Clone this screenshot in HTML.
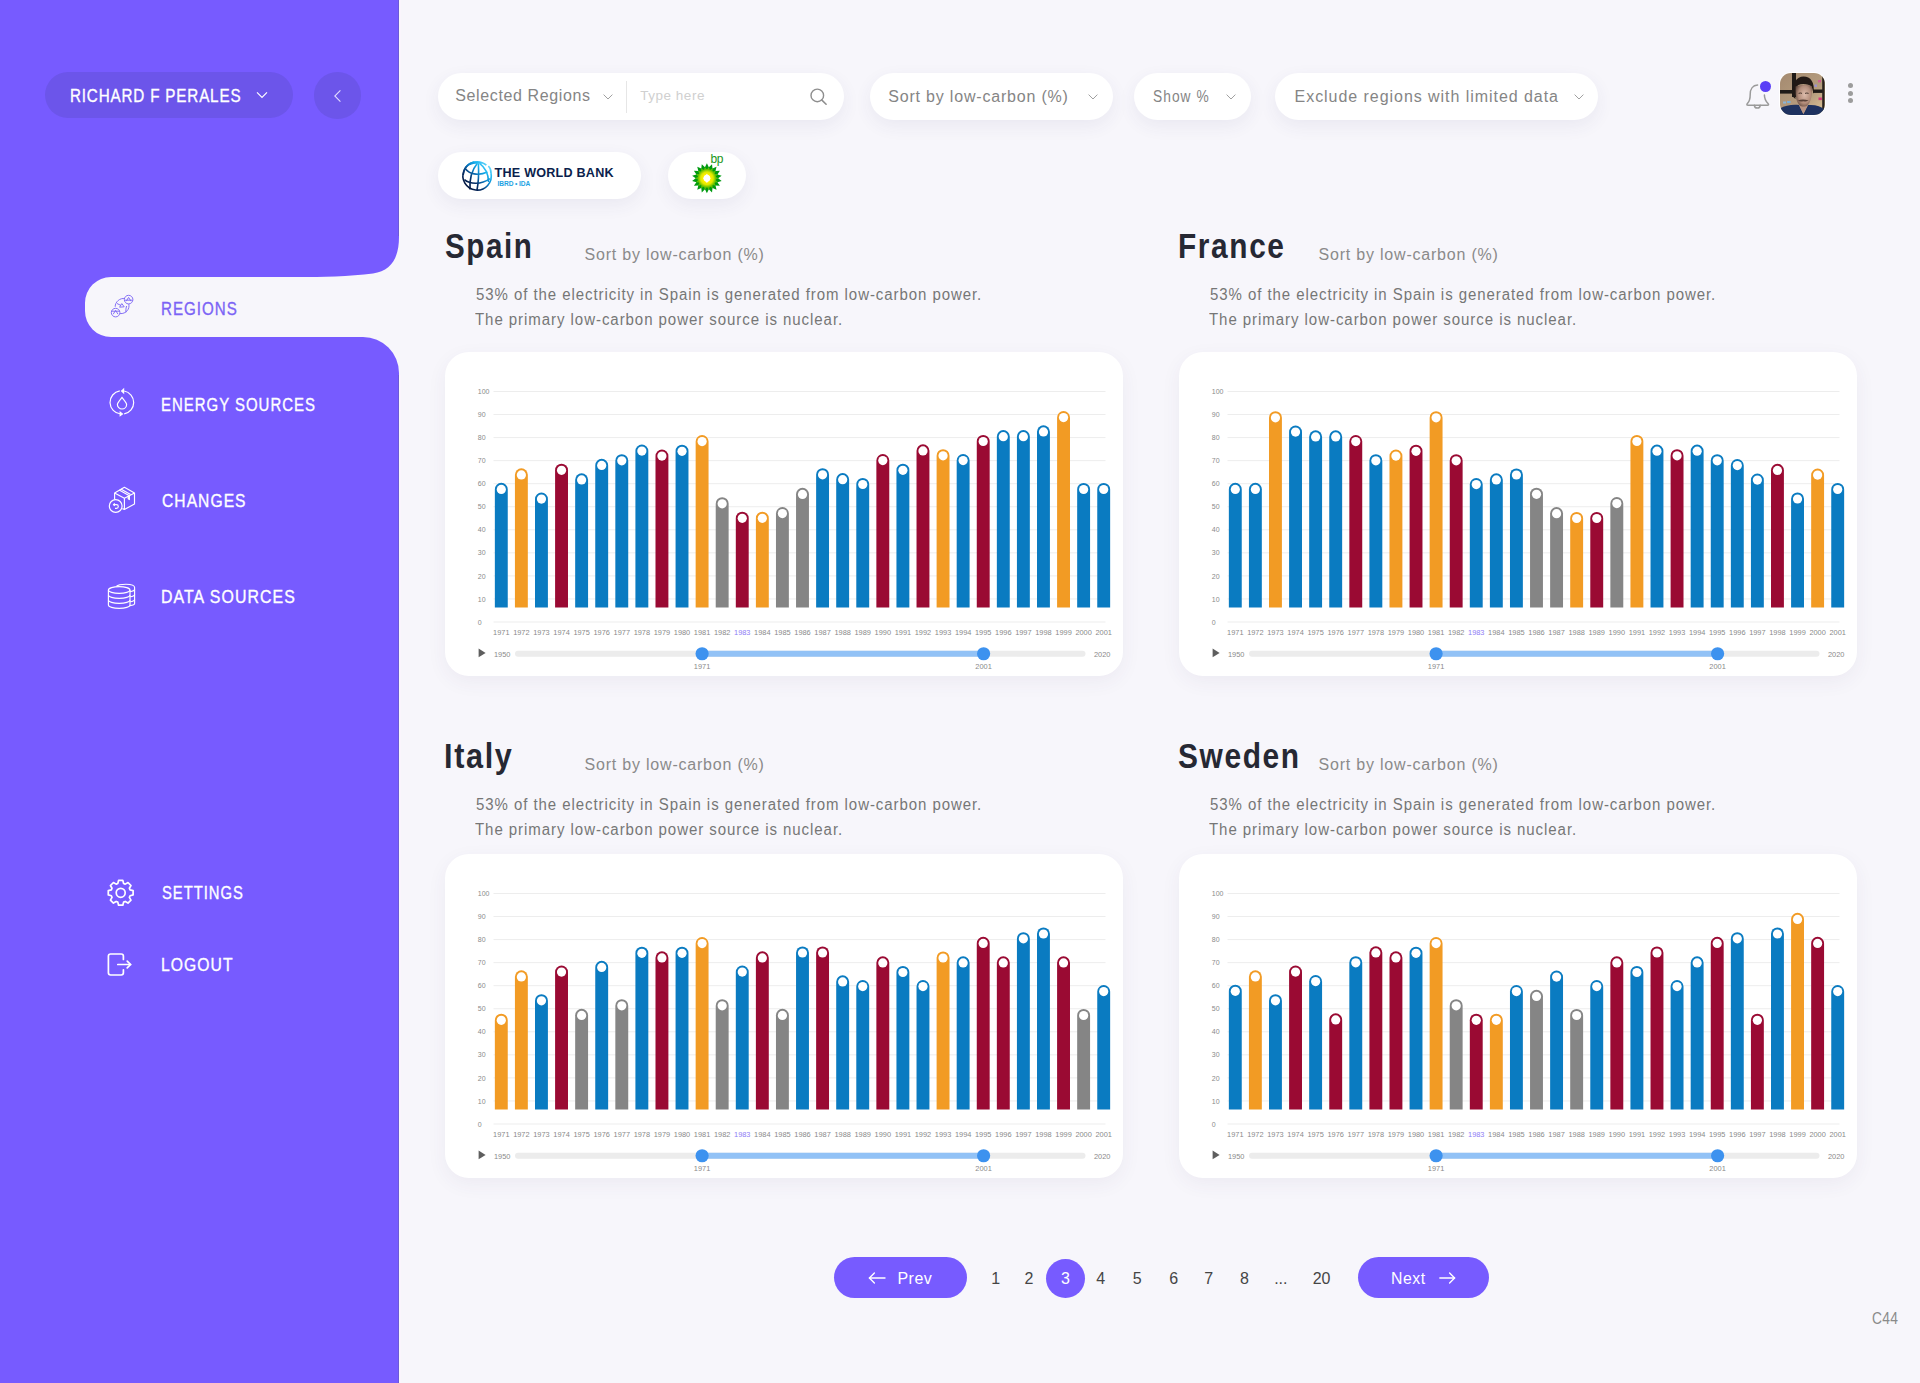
<!DOCTYPE html>
<html><head><meta charset="utf-8">
<style>
*{margin:0;padding:0;box-sizing:border-box}
html,body{width:1920px;height:1383px;overflow:hidden;background:#f7f6fb;font-family:"Liberation Sans",sans-serif}
.a{position:absolute;line-height:1;white-space:nowrap}
.stk{-webkit-text-stroke:0.35px currentColor}
.pill{position:absolute;background:#fff;border-radius:24px;box-shadow:0 6px 18px rgba(60,50,110,0.07)}
.card{position:absolute;width:678px;height:324px;background:#fff;border-radius:24px;box-shadow:0 6px 20px rgba(60,50,110,0.06)}
.cs{position:absolute;left:0;top:0}
.yl{font-size:7px;fill:#8a8a8a}
.xl{font-size:7.4px;fill:#8a8a8a;text-anchor:middle}
.sl{font-size:7.4px;fill:#8a8a8a}
.pg{color:#333;font-size:16px}
</style></head><body>

<svg class="a" style="left:0;top:0" width="400" height="1383" viewBox="0 0 400 1383">
<path d="M0,0 H399 V237 C399,258 391,271 373,273.5 C350,276.5 320,277 300,277 H111 A26,26 0 0 0 85,303 V311 A26,26 0 0 0 111,337 H363 A36,36 0 0 1 399,373 V1383 H0 Z" fill="#775bff"/>
<rect x="398" y="0" width="1" height="236" fill="#6c5ad8"/><rect x="398" y="375" width="1" height="1008" fill="#6c5ad8"/>
</svg>
<div class="a" style="left:399px;top:0;width:1.5px;height:236px;background:#faf5fc"></div><div class="a" style="left:399px;top:375px;width:1.5px;height:1008px;background:#faf5fc"></div>
<div class="a" style="left:45px;top:72px;width:248px;height:46px;border-radius:23px;background:#6c55ea"></div>
<svg class="a" style="left:255px;top:89px" width="14" height="12"><path d="M2,3.4 L7,8.4 L12,3.4" fill="none" stroke="#fff" stroke-width="1.15"/></svg>
<div class="a" style="left:314px;top:72px;width:46.5px;height:46.5px;border-radius:50%;background:#6c55ea"></div>
<svg class="a" style="left:330px;top:88px" width="14" height="16"><path d="M10.4,2.4 L4.8,8 L10.4,13.6" fill="none" stroke="#e2dcff" stroke-width="1.1"/></svg>
<div class="pill" style="left:437.5px;top:73px;width:406.5px;height:47px"></div>
<div class="a" style="left:626.2px;top:80.6px;width:1px;height:32.7px;background:#e6e6e6"></div>
<svg class="a" style="left:806px;top:85px" width="24" height="24"><circle cx="11.3" cy="10.4" r="6.3" fill="none" stroke="#8e8e8e" stroke-width="1.4"/><path d="M15.9,15.1 L20.1,19.2" stroke="#8e8e8e" stroke-width="1.6" stroke-linecap="round"/></svg>
<div class="pill" style="left:869.5px;top:73px;width:243px;height:47px"></div>
<div class="pill" style="left:1134px;top:73px;width:117px;height:47px"></div>
<div class="pill" style="left:1275px;top:73px;width:323px;height:47px"></div>
<svg class="a" style="left:602.4px;top:92px" width="12" height="10"><path d="M1.6,2.6 L6,7 L10.4,2.6" fill="none" stroke="#a0a0a0" stroke-width="1.0"/></svg>
<svg class="a" style="left:1087.2px;top:92px" width="12" height="10"><path d="M1.6,2.6 L6,7 L10.4,2.6" fill="none" stroke="#a0a0a0" stroke-width="1.0"/></svg>
<svg class="a" style="left:1225.0px;top:92px" width="12" height="10"><path d="M1.6,2.6 L6,7 L10.4,2.6" fill="none" stroke="#a0a0a0" stroke-width="1.0"/></svg>
<svg class="a" style="left:1572.5px;top:92px" width="12" height="10"><path d="M1.6,2.6 L6,7 L10.4,2.6" fill="none" stroke="#a0a0a0" stroke-width="1.0"/></svg>
<div class="pill" style="left:437.5px;top:152px;width:203.5px;height:47px"></div>
<div class="pill" style="left:668.3px;top:152px;width:77.5px;height:47px"></div>
<div class="card" style="left:445px;top:352px">
<svg class="cs" width="678" height="324" viewBox="0 0 678 324">
<line x1="48.5" x2="660.5" y1="39.50" y2="39.50" stroke="#ededed" stroke-width="1"/>
<text x="32.8" y="42.10" class="yl">100</text>
<line x1="48.5" x2="660.5" y1="62.55" y2="62.55" stroke="#ededed" stroke-width="1"/>
<text x="32.8" y="65.15" class="yl">90</text>
<line x1="48.5" x2="660.5" y1="85.60" y2="85.60" stroke="#ededed" stroke-width="1"/>
<text x="32.8" y="88.20" class="yl">80</text>
<line x1="48.5" x2="660.5" y1="108.65" y2="108.65" stroke="#ededed" stroke-width="1"/>
<text x="32.8" y="111.25" class="yl">70</text>
<line x1="48.5" x2="660.5" y1="131.70" y2="131.70" stroke="#ededed" stroke-width="1"/>
<text x="32.8" y="134.30" class="yl">60</text>
<line x1="48.5" x2="660.5" y1="154.75" y2="154.75" stroke="#ededed" stroke-width="1"/>
<text x="32.8" y="157.35" class="yl">50</text>
<line x1="48.5" x2="660.5" y1="177.80" y2="177.80" stroke="#ededed" stroke-width="1"/>
<text x="32.8" y="180.40" class="yl">40</text>
<line x1="48.5" x2="660.5" y1="200.85" y2="200.85" stroke="#ededed" stroke-width="1"/>
<text x="32.8" y="203.45" class="yl">30</text>
<line x1="48.5" x2="660.5" y1="223.90" y2="223.90" stroke="#ededed" stroke-width="1"/>
<text x="32.8" y="226.50" class="yl">20</text>
<line x1="48.5" x2="660.5" y1="246.95" y2="246.95" stroke="#ededed" stroke-width="1"/>
<text x="32.8" y="249.55" class="yl">10</text>
<line x1="48.5" x2="660.5" y1="270.00" y2="270.00" stroke="#ededed" stroke-width="1"/>
<text x="32.8" y="272.60" class="yl">0</text>
<path d="M49.85,255.6 V137.25 A6.45,6.45 0 0 1 62.75,137.25 V255.6 Z" fill="#0a7bc1"/>
<circle cx="56.30" cy="137.40" r="4.6" fill="#fff"/>
<text x="56.30" y="282.6" class="xl">1971</text>
<path d="M69.93,255.6 V122.75 A6.45,6.45 0 0 1 82.83,122.75 V255.6 Z" fill="#f29b24"/>
<circle cx="76.38" cy="122.90" r="4.6" fill="#fff"/>
<text x="76.38" y="282.6" class="xl">1972</text>
<path d="M90.01,255.6 V146.95 A6.45,6.45 0 0 1 102.91,146.95 V255.6 Z" fill="#0a7bc1"/>
<circle cx="96.46" cy="147.10" r="4.6" fill="#fff"/>
<text x="96.46" y="282.6" class="xl">1973</text>
<path d="M110.09,255.6 V118.15 A6.45,6.45 0 0 1 122.99,118.15 V255.6 Z" fill="#9a0a33"/>
<circle cx="116.54" cy="118.30" r="4.6" fill="#fff"/>
<text x="116.54" y="282.6" class="xl">1974</text>
<path d="M130.17,255.6 V127.75 A6.45,6.45 0 0 1 143.07,127.75 V255.6 Z" fill="#0a7bc1"/>
<circle cx="136.62" cy="127.90" r="4.6" fill="#fff"/>
<text x="136.62" y="282.6" class="xl">1975</text>
<path d="M150.25,255.6 V113.25 A6.45,6.45 0 0 1 163.15,113.25 V255.6 Z" fill="#0a7bc1"/>
<circle cx="156.70" cy="113.40" r="4.6" fill="#fff"/>
<text x="156.70" y="282.6" class="xl">1976</text>
<path d="M170.33,255.6 V108.65 A6.45,6.45 0 0 1 183.23,108.65 V255.6 Z" fill="#0a7bc1"/>
<circle cx="176.78" cy="108.80" r="4.6" fill="#fff"/>
<text x="176.78" y="282.6" class="xl">1977</text>
<path d="M190.41,255.6 V98.95 A6.45,6.45 0 0 1 203.31,98.95 V255.6 Z" fill="#0a7bc1"/>
<circle cx="196.86" cy="99.10" r="4.6" fill="#fff"/>
<text x="196.86" y="282.6" class="xl">1978</text>
<path d="M210.49,255.6 V103.95 A6.45,6.45 0 0 1 223.39,103.95 V255.6 Z" fill="#9a0a33"/>
<circle cx="216.94" cy="104.10" r="4.6" fill="#fff"/>
<text x="216.94" y="282.6" class="xl">1979</text>
<path d="M230.57,255.6 V99.15 A6.45,6.45 0 0 1 243.47,99.15 V255.6 Z" fill="#0a7bc1"/>
<circle cx="237.02" cy="99.30" r="4.6" fill="#fff"/>
<text x="237.02" y="282.6" class="xl">1980</text>
<path d="M250.65,255.6 V89.45 A6.45,6.45 0 0 1 263.55,89.45 V255.6 Z" fill="#f29b24"/>
<circle cx="257.10" cy="89.60" r="4.6" fill="#fff"/>
<text x="257.10" y="282.6" class="xl">1981</text>
<path d="M270.73,255.6 V151.65 A6.45,6.45 0 0 1 283.63,151.65 V255.6 Z" fill="#858585"/>
<circle cx="277.18" cy="151.80" r="4.6" fill="#fff"/>
<text x="277.18" y="282.6" class="xl">1982</text>
<path d="M290.81,255.6 V166.15 A6.45,6.45 0 0 1 303.71,166.15 V255.6 Z" fill="#9a0a33"/>
<circle cx="297.26" cy="166.30" r="4.6" fill="#fff"/>
<text x="297.26" y="282.6" class="xl" style="fill:#8d7bf5">1983</text>
<path d="M310.89,255.6 V166.15 A6.45,6.45 0 0 1 323.79,166.15 V255.6 Z" fill="#f29b24"/>
<circle cx="317.34" cy="166.30" r="4.6" fill="#fff"/>
<text x="317.34" y="282.6" class="xl">1984</text>
<path d="M330.97,255.6 V161.45 A6.45,6.45 0 0 1 343.87,161.45 V255.6 Z" fill="#858585"/>
<circle cx="337.42" cy="161.60" r="4.6" fill="#fff"/>
<text x="337.42" y="282.6" class="xl">1985</text>
<path d="M351.05,255.6 V142.25 A6.45,6.45 0 0 1 363.95,142.25 V255.6 Z" fill="#858585"/>
<circle cx="357.50" cy="142.40" r="4.6" fill="#fff"/>
<text x="357.50" y="282.6" class="xl">1986</text>
<path d="M371.13,255.6 V122.65 A6.45,6.45 0 0 1 384.03,122.65 V255.6 Z" fill="#0a7bc1"/>
<circle cx="377.58" cy="122.80" r="4.6" fill="#fff"/>
<text x="377.58" y="282.6" class="xl">1987</text>
<path d="M391.21,255.6 V127.55 A6.45,6.45 0 0 1 404.11,127.55 V255.6 Z" fill="#0a7bc1"/>
<circle cx="397.66" cy="127.70" r="4.6" fill="#fff"/>
<text x="397.66" y="282.6" class="xl">1988</text>
<path d="M411.29,255.6 V132.35 A6.45,6.45 0 0 1 424.19,132.35 V255.6 Z" fill="#0a7bc1"/>
<circle cx="417.74" cy="132.50" r="4.6" fill="#fff"/>
<text x="417.74" y="282.6" class="xl">1989</text>
<path d="M431.37,255.6 V108.45 A6.45,6.45 0 0 1 444.27,108.45 V255.6 Z" fill="#9a0a33"/>
<circle cx="437.82" cy="108.60" r="4.6" fill="#fff"/>
<text x="437.82" y="282.6" class="xl">1990</text>
<path d="M451.45,255.6 V118.15 A6.45,6.45 0 0 1 464.35,118.15 V255.6 Z" fill="#0a7bc1"/>
<circle cx="457.90" cy="118.30" r="4.6" fill="#fff"/>
<text x="457.90" y="282.6" class="xl">1991</text>
<path d="M471.53,255.6 V98.75 A6.45,6.45 0 0 1 484.43,98.75 V255.6 Z" fill="#9a0a33"/>
<circle cx="477.98" cy="98.90" r="4.6" fill="#fff"/>
<text x="477.98" y="282.6" class="xl">1992</text>
<path d="M491.61,255.6 V103.65 A6.45,6.45 0 0 1 504.51,103.65 V255.6 Z" fill="#f29b24"/>
<circle cx="498.06" cy="103.80" r="4.6" fill="#fff"/>
<text x="498.06" y="282.6" class="xl">1993</text>
<path d="M511.69,255.6 V108.45 A6.45,6.45 0 0 1 524.59,108.45 V255.6 Z" fill="#0a7bc1"/>
<circle cx="518.14" cy="108.60" r="4.6" fill="#fff"/>
<text x="518.14" y="282.6" class="xl">1994</text>
<path d="M531.77,255.6 V89.35 A6.45,6.45 0 0 1 544.67,89.35 V255.6 Z" fill="#9a0a33"/>
<circle cx="538.22" cy="89.50" r="4.6" fill="#fff"/>
<text x="538.22" y="282.6" class="xl">1995</text>
<path d="M551.85,255.6 V84.55 A6.45,6.45 0 0 1 564.75,84.55 V255.6 Z" fill="#0a7bc1"/>
<circle cx="558.30" cy="84.70" r="4.6" fill="#fff"/>
<text x="558.30" y="282.6" class="xl">1996</text>
<path d="M571.93,255.6 V84.55 A6.45,6.45 0 0 1 584.83,84.55 V255.6 Z" fill="#0a7bc1"/>
<circle cx="578.38" cy="84.70" r="4.6" fill="#fff"/>
<text x="578.38" y="282.6" class="xl">1997</text>
<path d="M592.01,255.6 V79.75 A6.45,6.45 0 0 1 604.91,79.75 V255.6 Z" fill="#0a7bc1"/>
<circle cx="598.46" cy="79.90" r="4.6" fill="#fff"/>
<text x="598.46" y="282.6" class="xl">1998</text>
<path d="M612.09,255.6 V65.45 A6.45,6.45 0 0 1 624.99,65.45 V255.6 Z" fill="#f29b24"/>
<circle cx="618.54" cy="65.60" r="4.6" fill="#fff"/>
<text x="618.54" y="282.6" class="xl">1999</text>
<path d="M632.17,255.6 V137.35 A6.45,6.45 0 0 1 645.07,137.35 V255.6 Z" fill="#0a7bc1"/>
<circle cx="638.62" cy="137.50" r="4.6" fill="#fff"/>
<text x="638.62" y="282.6" class="xl">2000</text>
<path d="M652.25,255.6 V137.35 A6.45,6.45 0 0 1 665.15,137.35 V255.6 Z" fill="#0a7bc1"/>
<circle cx="658.70" cy="137.50" r="4.6" fill="#fff"/>
<text x="658.70" y="282.6" class="xl">2001</text>
<path d="M33.6,296.6 L40.6,300.9 L33.6,305.2 Z" fill="#5e5e5e"/>
<text x="49" y="304.5" class="sl">1950</text>
<line x1="73" x2="637.5" y1="301.75" y2="301.75" stroke="#ececec" stroke-width="6" stroke-linecap="round"/>
<line x1="257" x2="538.6" y1="301.75" y2="301.75" stroke="#92c2f6" stroke-width="6"/>
<circle cx="257.1" cy="301.75" r="6.6" fill="#3d92ef"/>
<circle cx="538.6" cy="301.75" r="6.6" fill="#3d92ef"/>
<text x="257.1" y="317" class="sl" text-anchor="middle">1971</text>
<text x="538.6" y="317" class="sl" text-anchor="middle">2001</text>
<text x="649" y="304.5" class="sl">2020</text>
</svg>
</div>
<div class="card" style="left:1179px;top:352px">
<svg class="cs" width="678" height="324" viewBox="0 0 678 324">
<line x1="48.5" x2="660.5" y1="39.50" y2="39.50" stroke="#ededed" stroke-width="1"/>
<text x="32.8" y="42.10" class="yl">100</text>
<line x1="48.5" x2="660.5" y1="62.55" y2="62.55" stroke="#ededed" stroke-width="1"/>
<text x="32.8" y="65.15" class="yl">90</text>
<line x1="48.5" x2="660.5" y1="85.60" y2="85.60" stroke="#ededed" stroke-width="1"/>
<text x="32.8" y="88.20" class="yl">80</text>
<line x1="48.5" x2="660.5" y1="108.65" y2="108.65" stroke="#ededed" stroke-width="1"/>
<text x="32.8" y="111.25" class="yl">70</text>
<line x1="48.5" x2="660.5" y1="131.70" y2="131.70" stroke="#ededed" stroke-width="1"/>
<text x="32.8" y="134.30" class="yl">60</text>
<line x1="48.5" x2="660.5" y1="154.75" y2="154.75" stroke="#ededed" stroke-width="1"/>
<text x="32.8" y="157.35" class="yl">50</text>
<line x1="48.5" x2="660.5" y1="177.80" y2="177.80" stroke="#ededed" stroke-width="1"/>
<text x="32.8" y="180.40" class="yl">40</text>
<line x1="48.5" x2="660.5" y1="200.85" y2="200.85" stroke="#ededed" stroke-width="1"/>
<text x="32.8" y="203.45" class="yl">30</text>
<line x1="48.5" x2="660.5" y1="223.90" y2="223.90" stroke="#ededed" stroke-width="1"/>
<text x="32.8" y="226.50" class="yl">20</text>
<line x1="48.5" x2="660.5" y1="246.95" y2="246.95" stroke="#ededed" stroke-width="1"/>
<text x="32.8" y="249.55" class="yl">10</text>
<line x1="48.5" x2="660.5" y1="270.00" y2="270.00" stroke="#ededed" stroke-width="1"/>
<text x="32.8" y="272.60" class="yl">0</text>
<path d="M49.85,255.6 V137.25 A6.45,6.45 0 0 1 62.75,137.25 V255.6 Z" fill="#0a7bc1"/>
<circle cx="56.30" cy="137.40" r="4.6" fill="#fff"/>
<text x="56.30" y="282.6" class="xl">1971</text>
<path d="M69.93,255.6 V137.25 A6.45,6.45 0 0 1 82.83,137.25 V255.6 Z" fill="#0a7bc1"/>
<circle cx="76.38" cy="137.40" r="4.6" fill="#fff"/>
<text x="76.38" y="282.6" class="xl">1972</text>
<path d="M90.01,255.6 V65.65 A6.45,6.45 0 0 1 102.91,65.65 V255.6 Z" fill="#f29b24"/>
<circle cx="96.46" cy="65.80" r="4.6" fill="#fff"/>
<text x="96.46" y="282.6" class="xl">1973</text>
<path d="M110.09,255.6 V79.95 A6.45,6.45 0 0 1 122.99,79.95 V255.6 Z" fill="#0a7bc1"/>
<circle cx="116.54" cy="80.10" r="4.6" fill="#fff"/>
<text x="116.54" y="282.6" class="xl">1974</text>
<path d="M130.17,255.6 V84.75 A6.45,6.45 0 0 1 143.07,84.75 V255.6 Z" fill="#0a7bc1"/>
<circle cx="136.62" cy="84.90" r="4.6" fill="#fff"/>
<text x="136.62" y="282.6" class="xl">1975</text>
<path d="M150.25,255.6 V84.75 A6.45,6.45 0 0 1 163.15,84.75 V255.6 Z" fill="#0a7bc1"/>
<circle cx="156.70" cy="84.90" r="4.6" fill="#fff"/>
<text x="156.70" y="282.6" class="xl">1976</text>
<path d="M170.33,255.6 V89.45 A6.45,6.45 0 0 1 183.23,89.45 V255.6 Z" fill="#9a0a33"/>
<circle cx="176.78" cy="89.60" r="4.6" fill="#fff"/>
<text x="176.78" y="282.6" class="xl">1977</text>
<path d="M190.41,255.6 V108.65 A6.45,6.45 0 0 1 203.31,108.65 V255.6 Z" fill="#0a7bc1"/>
<circle cx="196.86" cy="108.80" r="4.6" fill="#fff"/>
<text x="196.86" y="282.6" class="xl">1978</text>
<path d="M210.49,255.6 V103.95 A6.45,6.45 0 0 1 223.39,103.95 V255.6 Z" fill="#f29b24"/>
<circle cx="216.94" cy="104.10" r="4.6" fill="#fff"/>
<text x="216.94" y="282.6" class="xl">1979</text>
<path d="M230.57,255.6 V99.15 A6.45,6.45 0 0 1 243.47,99.15 V255.6 Z" fill="#9a0a33"/>
<circle cx="237.02" cy="99.30" r="4.6" fill="#fff"/>
<text x="237.02" y="282.6" class="xl">1980</text>
<path d="M250.65,255.6 V65.65 A6.45,6.45 0 0 1 263.55,65.65 V255.6 Z" fill="#f29b24"/>
<circle cx="257.10" cy="65.80" r="4.6" fill="#fff"/>
<text x="257.10" y="282.6" class="xl">1981</text>
<path d="M270.73,255.6 V108.65 A6.45,6.45 0 0 1 283.63,108.65 V255.6 Z" fill="#9a0a33"/>
<circle cx="277.18" cy="108.80" r="4.6" fill="#fff"/>
<text x="277.18" y="282.6" class="xl">1982</text>
<path d="M290.81,255.6 V132.45 A6.45,6.45 0 0 1 303.71,132.45 V255.6 Z" fill="#0a7bc1"/>
<circle cx="297.26" cy="132.60" r="4.6" fill="#fff"/>
<text x="297.26" y="282.6" class="xl" style="fill:#8d7bf5">1983</text>
<path d="M310.89,255.6 V127.75 A6.45,6.45 0 0 1 323.79,127.75 V255.6 Z" fill="#0a7bc1"/>
<circle cx="317.34" cy="127.90" r="4.6" fill="#fff"/>
<text x="317.34" y="282.6" class="xl">1984</text>
<path d="M330.97,255.6 V122.85 A6.45,6.45 0 0 1 343.87,122.85 V255.6 Z" fill="#0a7bc1"/>
<circle cx="337.42" cy="123.00" r="4.6" fill="#fff"/>
<text x="337.42" y="282.6" class="xl">1985</text>
<path d="M351.05,255.6 V142.15 A6.45,6.45 0 0 1 363.95,142.15 V255.6 Z" fill="#858585"/>
<circle cx="357.50" cy="142.30" r="4.6" fill="#fff"/>
<text x="357.50" y="282.6" class="xl">1986</text>
<path d="M371.13,255.6 V161.55 A6.45,6.45 0 0 1 384.03,161.55 V255.6 Z" fill="#858585"/>
<circle cx="377.58" cy="161.70" r="4.6" fill="#fff"/>
<text x="377.58" y="282.6" class="xl">1987</text>
<path d="M391.21,255.6 V166.35 A6.45,6.45 0 0 1 404.11,166.35 V255.6 Z" fill="#f29b24"/>
<circle cx="397.66" cy="166.50" r="4.6" fill="#fff"/>
<text x="397.66" y="282.6" class="xl">1988</text>
<path d="M411.29,255.6 V166.35 A6.45,6.45 0 0 1 424.19,166.35 V255.6 Z" fill="#9a0a33"/>
<circle cx="417.74" cy="166.50" r="4.6" fill="#fff"/>
<text x="417.74" y="282.6" class="xl">1989</text>
<path d="M431.37,255.6 V151.45 A6.45,6.45 0 0 1 444.27,151.45 V255.6 Z" fill="#858585"/>
<circle cx="437.82" cy="151.60" r="4.6" fill="#fff"/>
<text x="437.82" y="282.6" class="xl">1990</text>
<path d="M451.45,255.6 V89.35 A6.45,6.45 0 0 1 464.35,89.35 V255.6 Z" fill="#f29b24"/>
<circle cx="457.90" cy="89.50" r="4.6" fill="#fff"/>
<text x="457.90" y="282.6" class="xl">1991</text>
<path d="M471.53,255.6 V99.05 A6.45,6.45 0 0 1 484.43,99.05 V255.6 Z" fill="#0a7bc1"/>
<circle cx="477.98" cy="99.20" r="4.6" fill="#fff"/>
<text x="477.98" y="282.6" class="xl">1992</text>
<path d="M491.61,255.6 V103.65 A6.45,6.45 0 0 1 504.51,103.65 V255.6 Z" fill="#9a0a33"/>
<circle cx="498.06" cy="103.80" r="4.6" fill="#fff"/>
<text x="498.06" y="282.6" class="xl">1993</text>
<path d="M511.69,255.6 V99.05 A6.45,6.45 0 0 1 524.59,99.05 V255.6 Z" fill="#0a7bc1"/>
<circle cx="518.14" cy="99.20" r="4.6" fill="#fff"/>
<text x="518.14" y="282.6" class="xl">1994</text>
<path d="M531.77,255.6 V108.65 A6.45,6.45 0 0 1 544.67,108.65 V255.6 Z" fill="#0a7bc1"/>
<circle cx="538.22" cy="108.80" r="4.6" fill="#fff"/>
<text x="538.22" y="282.6" class="xl">1995</text>
<path d="M551.85,255.6 V113.45 A6.45,6.45 0 0 1 564.75,113.45 V255.6 Z" fill="#0a7bc1"/>
<circle cx="558.30" cy="113.60" r="4.6" fill="#fff"/>
<text x="558.30" y="282.6" class="xl">1996</text>
<path d="M571.93,255.6 V127.95 A6.45,6.45 0 0 1 584.83,127.95 V255.6 Z" fill="#0a7bc1"/>
<circle cx="578.38" cy="128.10" r="4.6" fill="#fff"/>
<text x="578.38" y="282.6" class="xl">1997</text>
<path d="M592.01,255.6 V118.25 A6.45,6.45 0 0 1 604.91,118.25 V255.6 Z" fill="#9a0a33"/>
<circle cx="598.46" cy="118.40" r="4.6" fill="#fff"/>
<text x="598.46" y="282.6" class="xl">1998</text>
<path d="M612.09,255.6 V146.85 A6.45,6.45 0 0 1 624.99,146.85 V255.6 Z" fill="#0a7bc1"/>
<circle cx="618.54" cy="147.00" r="4.6" fill="#fff"/>
<text x="618.54" y="282.6" class="xl">1999</text>
<path d="M632.17,255.6 V122.95 A6.45,6.45 0 0 1 645.07,122.95 V255.6 Z" fill="#f29b24"/>
<circle cx="638.62" cy="123.10" r="4.6" fill="#fff"/>
<text x="638.62" y="282.6" class="xl">2000</text>
<path d="M652.25,255.6 V137.35 A6.45,6.45 0 0 1 665.15,137.35 V255.6 Z" fill="#0a7bc1"/>
<circle cx="658.70" cy="137.50" r="4.6" fill="#fff"/>
<text x="658.70" y="282.6" class="xl">2001</text>
<path d="M33.6,296.6 L40.6,300.9 L33.6,305.2 Z" fill="#5e5e5e"/>
<text x="49" y="304.5" class="sl">1950</text>
<line x1="73" x2="637.5" y1="301.75" y2="301.75" stroke="#ececec" stroke-width="6" stroke-linecap="round"/>
<line x1="257" x2="538.6" y1="301.75" y2="301.75" stroke="#92c2f6" stroke-width="6"/>
<circle cx="257.1" cy="301.75" r="6.6" fill="#3d92ef"/>
<circle cx="538.6" cy="301.75" r="6.6" fill="#3d92ef"/>
<text x="257.1" y="317" class="sl" text-anchor="middle">1971</text>
<text x="538.6" y="317" class="sl" text-anchor="middle">2001</text>
<text x="649" y="304.5" class="sl">2020</text>
</svg>
</div>
<div class="card" style="left:445px;top:854px">
<svg class="cs" width="678" height="324" viewBox="0 0 678 324">
<line x1="48.5" x2="660.5" y1="39.50" y2="39.50" stroke="#ededed" stroke-width="1"/>
<text x="32.8" y="42.10" class="yl">100</text>
<line x1="48.5" x2="660.5" y1="62.55" y2="62.55" stroke="#ededed" stroke-width="1"/>
<text x="32.8" y="65.15" class="yl">90</text>
<line x1="48.5" x2="660.5" y1="85.60" y2="85.60" stroke="#ededed" stroke-width="1"/>
<text x="32.8" y="88.20" class="yl">80</text>
<line x1="48.5" x2="660.5" y1="108.65" y2="108.65" stroke="#ededed" stroke-width="1"/>
<text x="32.8" y="111.25" class="yl">70</text>
<line x1="48.5" x2="660.5" y1="131.70" y2="131.70" stroke="#ededed" stroke-width="1"/>
<text x="32.8" y="134.30" class="yl">60</text>
<line x1="48.5" x2="660.5" y1="154.75" y2="154.75" stroke="#ededed" stroke-width="1"/>
<text x="32.8" y="157.35" class="yl">50</text>
<line x1="48.5" x2="660.5" y1="177.80" y2="177.80" stroke="#ededed" stroke-width="1"/>
<text x="32.8" y="180.40" class="yl">40</text>
<line x1="48.5" x2="660.5" y1="200.85" y2="200.85" stroke="#ededed" stroke-width="1"/>
<text x="32.8" y="203.45" class="yl">30</text>
<line x1="48.5" x2="660.5" y1="223.90" y2="223.90" stroke="#ededed" stroke-width="1"/>
<text x="32.8" y="226.50" class="yl">20</text>
<line x1="48.5" x2="660.5" y1="246.95" y2="246.95" stroke="#ededed" stroke-width="1"/>
<text x="32.8" y="249.55" class="yl">10</text>
<line x1="48.5" x2="660.5" y1="270.00" y2="270.00" stroke="#ededed" stroke-width="1"/>
<text x="32.8" y="272.60" class="yl">0</text>
<path d="M49.85,255.6 V166.15 A6.45,6.45 0 0 1 62.75,166.15 V255.6 Z" fill="#f29b24"/>
<circle cx="56.30" cy="166.30" r="4.6" fill="#fff"/>
<text x="56.30" y="282.6" class="xl">1971</text>
<path d="M69.93,255.6 V122.75 A6.45,6.45 0 0 1 82.83,122.75 V255.6 Z" fill="#f29b24"/>
<circle cx="76.38" cy="122.90" r="4.6" fill="#fff"/>
<text x="76.38" y="282.6" class="xl">1972</text>
<path d="M90.01,255.6 V146.65 A6.45,6.45 0 0 1 102.91,146.65 V255.6 Z" fill="#0a7bc1"/>
<circle cx="96.46" cy="146.80" r="4.6" fill="#fff"/>
<text x="96.46" y="282.6" class="xl">1973</text>
<path d="M110.09,255.6 V117.95 A6.45,6.45 0 0 1 122.99,117.95 V255.6 Z" fill="#9a0a33"/>
<circle cx="116.54" cy="118.10" r="4.6" fill="#fff"/>
<text x="116.54" y="282.6" class="xl">1974</text>
<path d="M130.17,255.6 V161.25 A6.45,6.45 0 0 1 143.07,161.25 V255.6 Z" fill="#858585"/>
<circle cx="136.62" cy="161.40" r="4.6" fill="#fff"/>
<text x="136.62" y="282.6" class="xl">1975</text>
<path d="M150.25,255.6 V113.25 A6.45,6.45 0 0 1 163.15,113.25 V255.6 Z" fill="#0a7bc1"/>
<circle cx="156.70" cy="113.40" r="4.6" fill="#fff"/>
<text x="156.70" y="282.6" class="xl">1976</text>
<path d="M170.33,255.6 V151.65 A6.45,6.45 0 0 1 183.23,151.65 V255.6 Z" fill="#858585"/>
<circle cx="176.78" cy="151.80" r="4.6" fill="#fff"/>
<text x="176.78" y="282.6" class="xl">1977</text>
<path d="M190.41,255.6 V99.15 A6.45,6.45 0 0 1 203.31,99.15 V255.6 Z" fill="#0a7bc1"/>
<circle cx="196.86" cy="99.30" r="4.6" fill="#fff"/>
<text x="196.86" y="282.6" class="xl">1978</text>
<path d="M210.49,255.6 V103.75 A6.45,6.45 0 0 1 223.39,103.75 V255.6 Z" fill="#9a0a33"/>
<circle cx="216.94" cy="103.90" r="4.6" fill="#fff"/>
<text x="216.94" y="282.6" class="xl">1979</text>
<path d="M230.57,255.6 V99.15 A6.45,6.45 0 0 1 243.47,99.15 V255.6 Z" fill="#0a7bc1"/>
<circle cx="237.02" cy="99.30" r="4.6" fill="#fff"/>
<text x="237.02" y="282.6" class="xl">1980</text>
<path d="M250.65,255.6 V89.45 A6.45,6.45 0 0 1 263.55,89.45 V255.6 Z" fill="#f29b24"/>
<circle cx="257.10" cy="89.60" r="4.6" fill="#fff"/>
<text x="257.10" y="282.6" class="xl">1981</text>
<path d="M270.73,255.6 V151.65 A6.45,6.45 0 0 1 283.63,151.65 V255.6 Z" fill="#858585"/>
<circle cx="277.18" cy="151.80" r="4.6" fill="#fff"/>
<text x="277.18" y="282.6" class="xl">1982</text>
<path d="M290.81,255.6 V117.95 A6.45,6.45 0 0 1 303.71,117.95 V255.6 Z" fill="#0a7bc1"/>
<circle cx="297.26" cy="118.10" r="4.6" fill="#fff"/>
<text x="297.26" y="282.6" class="xl" style="fill:#8d7bf5">1983</text>
<path d="M310.89,255.6 V103.75 A6.45,6.45 0 0 1 323.79,103.75 V255.6 Z" fill="#9a0a33"/>
<circle cx="317.34" cy="103.90" r="4.6" fill="#fff"/>
<text x="317.34" y="282.6" class="xl">1984</text>
<path d="M330.97,255.6 V161.25 A6.45,6.45 0 0 1 343.87,161.25 V255.6 Z" fill="#858585"/>
<circle cx="337.42" cy="161.40" r="4.6" fill="#fff"/>
<text x="337.42" y="282.6" class="xl">1985</text>
<path d="M351.05,255.6 V98.85 A6.45,6.45 0 0 1 363.95,98.85 V255.6 Z" fill="#0a7bc1"/>
<circle cx="357.50" cy="99.00" r="4.6" fill="#fff"/>
<text x="357.50" y="282.6" class="xl">1986</text>
<path d="M371.13,255.6 V98.85 A6.45,6.45 0 0 1 384.03,98.85 V255.6 Z" fill="#9a0a33"/>
<circle cx="377.58" cy="99.00" r="4.6" fill="#fff"/>
<text x="377.58" y="282.6" class="xl">1987</text>
<path d="M391.21,255.6 V127.75 A6.45,6.45 0 0 1 404.11,127.75 V255.6 Z" fill="#0a7bc1"/>
<circle cx="397.66" cy="127.90" r="4.6" fill="#fff"/>
<text x="397.66" y="282.6" class="xl">1988</text>
<path d="M411.29,255.6 V132.45 A6.45,6.45 0 0 1 424.19,132.45 V255.6 Z" fill="#0a7bc1"/>
<circle cx="417.74" cy="132.60" r="4.6" fill="#fff"/>
<text x="417.74" y="282.6" class="xl">1989</text>
<path d="M431.37,255.6 V108.75 A6.45,6.45 0 0 1 444.27,108.75 V255.6 Z" fill="#9a0a33"/>
<circle cx="437.82" cy="108.90" r="4.6" fill="#fff"/>
<text x="437.82" y="282.6" class="xl">1990</text>
<path d="M451.45,255.6 V118.35 A6.45,6.45 0 0 1 464.35,118.35 V255.6 Z" fill="#0a7bc1"/>
<circle cx="457.90" cy="118.50" r="4.6" fill="#fff"/>
<text x="457.90" y="282.6" class="xl">1991</text>
<path d="M471.53,255.6 V132.45 A6.45,6.45 0 0 1 484.43,132.45 V255.6 Z" fill="#0a7bc1"/>
<circle cx="477.98" cy="132.60" r="4.6" fill="#fff"/>
<text x="477.98" y="282.6" class="xl">1992</text>
<path d="M491.61,255.6 V103.85 A6.45,6.45 0 0 1 504.51,103.85 V255.6 Z" fill="#f29b24"/>
<circle cx="498.06" cy="104.00" r="4.6" fill="#fff"/>
<text x="498.06" y="282.6" class="xl">1993</text>
<path d="M511.69,255.6 V108.75 A6.45,6.45 0 0 1 524.59,108.75 V255.6 Z" fill="#0a7bc1"/>
<circle cx="518.14" cy="108.90" r="4.6" fill="#fff"/>
<text x="518.14" y="282.6" class="xl">1994</text>
<path d="M531.77,255.6 V89.25 A6.45,6.45 0 0 1 544.67,89.25 V255.6 Z" fill="#9a0a33"/>
<circle cx="538.22" cy="89.40" r="4.6" fill="#fff"/>
<text x="538.22" y="282.6" class="xl">1995</text>
<path d="M551.85,255.6 V108.75 A6.45,6.45 0 0 1 564.75,108.75 V255.6 Z" fill="#9a0a33"/>
<circle cx="558.30" cy="108.90" r="4.6" fill="#fff"/>
<text x="558.30" y="282.6" class="xl">1996</text>
<path d="M571.93,255.6 V84.65 A6.45,6.45 0 0 1 584.83,84.65 V255.6 Z" fill="#0a7bc1"/>
<circle cx="578.38" cy="84.80" r="4.6" fill="#fff"/>
<text x="578.38" y="282.6" class="xl">1997</text>
<path d="M592.01,255.6 V79.85 A6.45,6.45 0 0 1 604.91,79.85 V255.6 Z" fill="#0a7bc1"/>
<circle cx="598.46" cy="80.00" r="4.6" fill="#fff"/>
<text x="598.46" y="282.6" class="xl">1998</text>
<path d="M612.09,255.6 V108.75 A6.45,6.45 0 0 1 624.99,108.75 V255.6 Z" fill="#9a0a33"/>
<circle cx="618.54" cy="108.90" r="4.6" fill="#fff"/>
<text x="618.54" y="282.6" class="xl">1999</text>
<path d="M632.17,255.6 V161.35 A6.45,6.45 0 0 1 645.07,161.35 V255.6 Z" fill="#858585"/>
<circle cx="638.62" cy="161.50" r="4.6" fill="#fff"/>
<text x="638.62" y="282.6" class="xl">2000</text>
<path d="M652.25,255.6 V137.45 A6.45,6.45 0 0 1 665.15,137.45 V255.6 Z" fill="#0a7bc1"/>
<circle cx="658.70" cy="137.60" r="4.6" fill="#fff"/>
<text x="658.70" y="282.6" class="xl">2001</text>
<path d="M33.6,296.6 L40.6,300.9 L33.6,305.2 Z" fill="#5e5e5e"/>
<text x="49" y="304.5" class="sl">1950</text>
<line x1="73" x2="637.5" y1="301.75" y2="301.75" stroke="#ececec" stroke-width="6" stroke-linecap="round"/>
<line x1="257" x2="538.6" y1="301.75" y2="301.75" stroke="#92c2f6" stroke-width="6"/>
<circle cx="257.1" cy="301.75" r="6.6" fill="#3d92ef"/>
<circle cx="538.6" cy="301.75" r="6.6" fill="#3d92ef"/>
<text x="257.1" y="317" class="sl" text-anchor="middle">1971</text>
<text x="538.6" y="317" class="sl" text-anchor="middle">2001</text>
<text x="649" y="304.5" class="sl">2020</text>
</svg>
</div>
<div class="card" style="left:1179px;top:854px">
<svg class="cs" width="678" height="324" viewBox="0 0 678 324">
<line x1="48.5" x2="660.5" y1="39.50" y2="39.50" stroke="#ededed" stroke-width="1"/>
<text x="32.8" y="42.10" class="yl">100</text>
<line x1="48.5" x2="660.5" y1="62.55" y2="62.55" stroke="#ededed" stroke-width="1"/>
<text x="32.8" y="65.15" class="yl">90</text>
<line x1="48.5" x2="660.5" y1="85.60" y2="85.60" stroke="#ededed" stroke-width="1"/>
<text x="32.8" y="88.20" class="yl">80</text>
<line x1="48.5" x2="660.5" y1="108.65" y2="108.65" stroke="#ededed" stroke-width="1"/>
<text x="32.8" y="111.25" class="yl">70</text>
<line x1="48.5" x2="660.5" y1="131.70" y2="131.70" stroke="#ededed" stroke-width="1"/>
<text x="32.8" y="134.30" class="yl">60</text>
<line x1="48.5" x2="660.5" y1="154.75" y2="154.75" stroke="#ededed" stroke-width="1"/>
<text x="32.8" y="157.35" class="yl">50</text>
<line x1="48.5" x2="660.5" y1="177.80" y2="177.80" stroke="#ededed" stroke-width="1"/>
<text x="32.8" y="180.40" class="yl">40</text>
<line x1="48.5" x2="660.5" y1="200.85" y2="200.85" stroke="#ededed" stroke-width="1"/>
<text x="32.8" y="203.45" class="yl">30</text>
<line x1="48.5" x2="660.5" y1="223.90" y2="223.90" stroke="#ededed" stroke-width="1"/>
<text x="32.8" y="226.50" class="yl">20</text>
<line x1="48.5" x2="660.5" y1="246.95" y2="246.95" stroke="#ededed" stroke-width="1"/>
<text x="32.8" y="249.55" class="yl">10</text>
<line x1="48.5" x2="660.5" y1="270.00" y2="270.00" stroke="#ededed" stroke-width="1"/>
<text x="32.8" y="272.60" class="yl">0</text>
<path d="M49.85,255.6 V137.15 A6.45,6.45 0 0 1 62.75,137.15 V255.6 Z" fill="#0a7bc1"/>
<circle cx="56.30" cy="137.30" r="4.6" fill="#fff"/>
<text x="56.30" y="282.6" class="xl">1971</text>
<path d="M69.93,255.6 V122.75 A6.45,6.45 0 0 1 82.83,122.75 V255.6 Z" fill="#f29b24"/>
<circle cx="76.38" cy="122.90" r="4.6" fill="#fff"/>
<text x="76.38" y="282.6" class="xl">1972</text>
<path d="M90.01,255.6 V146.65 A6.45,6.45 0 0 1 102.91,146.65 V255.6 Z" fill="#0a7bc1"/>
<circle cx="96.46" cy="146.80" r="4.6" fill="#fff"/>
<text x="96.46" y="282.6" class="xl">1973</text>
<path d="M110.09,255.6 V117.95 A6.45,6.45 0 0 1 122.99,117.95 V255.6 Z" fill="#9a0a33"/>
<circle cx="116.54" cy="118.10" r="4.6" fill="#fff"/>
<text x="116.54" y="282.6" class="xl">1974</text>
<path d="M130.17,255.6 V127.45 A6.45,6.45 0 0 1 143.07,127.45 V255.6 Z" fill="#0a7bc1"/>
<circle cx="136.62" cy="127.60" r="4.6" fill="#fff"/>
<text x="136.62" y="282.6" class="xl">1975</text>
<path d="M150.25,255.6 V165.75 A6.45,6.45 0 0 1 163.15,165.75 V255.6 Z" fill="#9a0a33"/>
<circle cx="156.70" cy="165.90" r="4.6" fill="#fff"/>
<text x="156.70" y="282.6" class="xl">1976</text>
<path d="M170.33,255.6 V108.65 A6.45,6.45 0 0 1 183.23,108.65 V255.6 Z" fill="#0a7bc1"/>
<circle cx="176.78" cy="108.80" r="4.6" fill="#fff"/>
<text x="176.78" y="282.6" class="xl">1977</text>
<path d="M190.41,255.6 V98.75 A6.45,6.45 0 0 1 203.31,98.75 V255.6 Z" fill="#9a0a33"/>
<circle cx="196.86" cy="98.90" r="4.6" fill="#fff"/>
<text x="196.86" y="282.6" class="xl">1978</text>
<path d="M210.49,255.6 V103.75 A6.45,6.45 0 0 1 223.39,103.75 V255.6 Z" fill="#9a0a33"/>
<circle cx="216.94" cy="103.90" r="4.6" fill="#fff"/>
<text x="216.94" y="282.6" class="xl">1979</text>
<path d="M230.57,255.6 V99.15 A6.45,6.45 0 0 1 243.47,99.15 V255.6 Z" fill="#0a7bc1"/>
<circle cx="237.02" cy="99.30" r="4.6" fill="#fff"/>
<text x="237.02" y="282.6" class="xl">1980</text>
<path d="M250.65,255.6 V89.45 A6.45,6.45 0 0 1 263.55,89.45 V255.6 Z" fill="#f29b24"/>
<circle cx="257.10" cy="89.60" r="4.6" fill="#fff"/>
<text x="257.10" y="282.6" class="xl">1981</text>
<path d="M270.73,255.6 V151.65 A6.45,6.45 0 0 1 283.63,151.65 V255.6 Z" fill="#858585"/>
<circle cx="277.18" cy="151.80" r="4.6" fill="#fff"/>
<text x="277.18" y="282.6" class="xl">1982</text>
<path d="M290.81,255.6 V166.15 A6.45,6.45 0 0 1 303.71,166.15 V255.6 Z" fill="#9a0a33"/>
<circle cx="297.26" cy="166.30" r="4.6" fill="#fff"/>
<text x="297.26" y="282.6" class="xl" style="fill:#8d7bf5">1983</text>
<path d="M310.89,255.6 V166.15 A6.45,6.45 0 0 1 323.79,166.15 V255.6 Z" fill="#f29b24"/>
<circle cx="317.34" cy="166.30" r="4.6" fill="#fff"/>
<text x="317.34" y="282.6" class="xl">1984</text>
<path d="M330.97,255.6 V137.45 A6.45,6.45 0 0 1 343.87,137.45 V255.6 Z" fill="#0a7bc1"/>
<circle cx="337.42" cy="137.60" r="4.6" fill="#fff"/>
<text x="337.42" y="282.6" class="xl">1985</text>
<path d="M351.05,255.6 V142.25 A6.45,6.45 0 0 1 363.95,142.25 V255.6 Z" fill="#858585"/>
<circle cx="357.50" cy="142.40" r="4.6" fill="#fff"/>
<text x="357.50" y="282.6" class="xl">1986</text>
<path d="M371.13,255.6 V122.95 A6.45,6.45 0 0 1 384.03,122.95 V255.6 Z" fill="#0a7bc1"/>
<circle cx="377.58" cy="123.10" r="4.6" fill="#fff"/>
<text x="377.58" y="282.6" class="xl">1987</text>
<path d="M391.21,255.6 V161.35 A6.45,6.45 0 0 1 404.11,161.35 V255.6 Z" fill="#858585"/>
<circle cx="397.66" cy="161.50" r="4.6" fill="#fff"/>
<text x="397.66" y="282.6" class="xl">1988</text>
<path d="M411.29,255.6 V132.45 A6.45,6.45 0 0 1 424.19,132.45 V255.6 Z" fill="#0a7bc1"/>
<circle cx="417.74" cy="132.60" r="4.6" fill="#fff"/>
<text x="417.74" y="282.6" class="xl">1989</text>
<path d="M431.37,255.6 V108.75 A6.45,6.45 0 0 1 444.27,108.75 V255.6 Z" fill="#9a0a33"/>
<circle cx="437.82" cy="108.90" r="4.6" fill="#fff"/>
<text x="437.82" y="282.6" class="xl">1990</text>
<path d="M451.45,255.6 V118.35 A6.45,6.45 0 0 1 464.35,118.35 V255.6 Z" fill="#0a7bc1"/>
<circle cx="457.90" cy="118.50" r="4.6" fill="#fff"/>
<text x="457.90" y="282.6" class="xl">1991</text>
<path d="M471.53,255.6 V98.85 A6.45,6.45 0 0 1 484.43,98.85 V255.6 Z" fill="#9a0a33"/>
<circle cx="477.98" cy="99.00" r="4.6" fill="#fff"/>
<text x="477.98" y="282.6" class="xl">1992</text>
<path d="M491.61,255.6 V132.45 A6.45,6.45 0 0 1 504.51,132.45 V255.6 Z" fill="#0a7bc1"/>
<circle cx="498.06" cy="132.60" r="4.6" fill="#fff"/>
<text x="498.06" y="282.6" class="xl">1993</text>
<path d="M511.69,255.6 V108.75 A6.45,6.45 0 0 1 524.59,108.75 V255.6 Z" fill="#0a7bc1"/>
<circle cx="518.14" cy="108.90" r="4.6" fill="#fff"/>
<text x="518.14" y="282.6" class="xl">1994</text>
<path d="M531.77,255.6 V89.25 A6.45,6.45 0 0 1 544.67,89.25 V255.6 Z" fill="#9a0a33"/>
<circle cx="538.22" cy="89.40" r="4.6" fill="#fff"/>
<text x="538.22" y="282.6" class="xl">1995</text>
<path d="M551.85,255.6 V84.65 A6.45,6.45 0 0 1 564.75,84.65 V255.6 Z" fill="#0a7bc1"/>
<circle cx="558.30" cy="84.80" r="4.6" fill="#fff"/>
<text x="558.30" y="282.6" class="xl">1996</text>
<path d="M571.93,255.6 V166.15 A6.45,6.45 0 0 1 584.83,166.15 V255.6 Z" fill="#9a0a33"/>
<circle cx="578.38" cy="166.30" r="4.6" fill="#fff"/>
<text x="578.38" y="282.6" class="xl">1997</text>
<path d="M592.01,255.6 V79.85 A6.45,6.45 0 0 1 604.91,79.85 V255.6 Z" fill="#0a7bc1"/>
<circle cx="598.46" cy="80.00" r="4.6" fill="#fff"/>
<text x="598.46" y="282.6" class="xl">1998</text>
<path d="M612.09,255.6 V65.25 A6.45,6.45 0 0 1 624.99,65.25 V255.6 Z" fill="#f29b24"/>
<circle cx="618.54" cy="65.40" r="4.6" fill="#fff"/>
<text x="618.54" y="282.6" class="xl">1999</text>
<path d="M632.17,255.6 V89.25 A6.45,6.45 0 0 1 645.07,89.25 V255.6 Z" fill="#9a0a33"/>
<circle cx="638.62" cy="89.40" r="4.6" fill="#fff"/>
<text x="638.62" y="282.6" class="xl">2000</text>
<path d="M652.25,255.6 V137.45 A6.45,6.45 0 0 1 665.15,137.45 V255.6 Z" fill="#0a7bc1"/>
<circle cx="658.70" cy="137.60" r="4.6" fill="#fff"/>
<text x="658.70" y="282.6" class="xl">2001</text>
<path d="M33.6,296.6 L40.6,300.9 L33.6,305.2 Z" fill="#5e5e5e"/>
<text x="49" y="304.5" class="sl">1950</text>
<line x1="73" x2="637.5" y1="301.75" y2="301.75" stroke="#ececec" stroke-width="6" stroke-linecap="round"/>
<line x1="257" x2="538.6" y1="301.75" y2="301.75" stroke="#92c2f6" stroke-width="6"/>
<circle cx="257.1" cy="301.75" r="6.6" fill="#3d92ef"/>
<circle cx="538.6" cy="301.75" r="6.6" fill="#3d92ef"/>
<text x="257.1" y="317" class="sl" text-anchor="middle">1971</text>
<text x="538.6" y="317" class="sl" text-anchor="middle">2001</text>
<text x="649" y="304.5" class="sl">2020</text>
</svg>
</div>
<div class="a" style="left:834px;top:1257px;width:132.5px;height:41px;border-radius:21px;background:#775bff"></div>
<div class="a" style="left:1357.7px;top:1257px;width:131.5px;height:41px;border-radius:21px;background:#775bff"></div>
<div class="a" style="left:1046.2px;top:1259px;width:39px;height:39px;border-radius:50%;background:#775bff"></div>
<div class="a pg" style="left:975.7px;width:40px;text-align:center;top:1271.0px;color:#454545">1</div>
<div class="a pg" style="left:1008.9px;width:40px;text-align:center;top:1271.0px;color:#454545">2</div>
<div class="a pg" style="left:1045.4px;width:40px;text-align:center;top:1271.0px;color:#fff">3</div>
<div class="a pg" style="left:1080.7px;width:40px;text-align:center;top:1271.0px;color:#454545">4</div>
<div class="a pg" style="left:1117.2px;width:40px;text-align:center;top:1271.0px;color:#454545">5</div>
<div class="a pg" style="left:1153.6px;width:40px;text-align:center;top:1271.0px;color:#454545">6</div>
<div class="a pg" style="left:1188.6px;width:40px;text-align:center;top:1271.0px;color:#454545">7</div>
<div class="a pg" style="left:1224.4px;width:40px;text-align:center;top:1271.0px;color:#454545">8</div>
<div class="a pg" style="left:1260.8px;width:40px;text-align:center;top:1271.0px;color:#454545">...</div>
<div class="a pg" style="left:1301.6px;width:40px;text-align:center;top:1271.0px;color:#454545">20</div>
<div class="a stk" style="left:69.85px;top:86.74px;font-size:18.5px;font-weight:normal;color:#fff;letter-spacing:1.000px;transform:scaleX(0.8231);transform-origin:0 0;">RICHARD F PERALES</div>
<div class="a stk" style="left:160.70px;top:300.36px;font-size:18px;font-weight:normal;color:#7b63f5;letter-spacing:1.200px;transform:scaleX(0.8411);transform-origin:0 0;">REGIONS</div>
<div class="a stk" style="left:160.70px;top:396.46px;font-size:18px;font-weight:normal;color:#fff;letter-spacing:1.200px;transform:scaleX(0.8306);transform-origin:0 0;">ENERGY SOURCES</div>
<div class="a stk" style="left:161.70px;top:492.36px;font-size:18px;font-weight:normal;color:#fff;letter-spacing:1.200px;transform:scaleX(0.8682);transform-origin:0 0;">CHANGES</div>
<div class="a stk" style="left:160.70px;top:588.36px;font-size:18px;font-weight:normal;color:#fff;letter-spacing:1.200px;transform:scaleX(0.8828);transform-origin:0 0;">DATA SOURCES</div>
<div class="a stk" style="left:161.70px;top:883.51px;font-size:18px;font-weight:normal;color:#fff;letter-spacing:1.200px;transform:scaleX(0.8211);transform-origin:0 0;">SETTINGS</div>
<div class="a stk" style="left:160.70px;top:956.46px;font-size:18px;font-weight:normal;color:#fff;letter-spacing:1.200px;transform:scaleX(0.8723);transform-origin:0 0;">LOGOUT</div>
<div class="a" style="left:455.30px;top:87.96px;font-size:16px;font-weight:normal;color:#858585;letter-spacing:0.613px;">Selected Regions</div>
<div class="a" style="left:640.20px;top:88.57px;font-size:13.5px;font-weight:normal;color:#d0d0d0;letter-spacing:0.525px;">Type here</div>
<div class="a" style="left:888.30px;top:88.96px;font-size:16px;font-weight:normal;color:#858585;letter-spacing:0.805px;">Sort by low-carbon (%)</div>
<div class="a" style="left:1153.45px;top:88.96px;font-size:16px;font-weight:normal;color:#858585;letter-spacing:1.200px;transform:scaleX(0.8597);transform-origin:0 0;">Show %</div>
<div class="a" style="left:1294.60px;top:88.96px;font-size:16px;font-weight:normal;color:#858585;letter-spacing:0.950px;">Exclude regions with limited data</div>
<div class="a" style="left:444.70px;top:228.27px;font-size:35px;font-weight:bold;color:#262833;letter-spacing:1.900px;transform:scaleX(0.8445);transform-origin:0 0;">Spain</div>
<div class="a" style="left:1177.62px;top:228.27px;font-size:35px;font-weight:bold;color:#262833;letter-spacing:1.900px;transform:scaleX(0.8525);transform-origin:0 0;">France</div>
<div class="a" style="left:443.62px;top:738.17px;font-size:35px;font-weight:bold;color:#262833;letter-spacing:1.900px;transform:scaleX(0.8743);transform-origin:0 0;">Italy</div>
<div class="a" style="left:1178.30px;top:738.17px;font-size:35px;font-weight:bold;color:#262833;letter-spacing:1.900px;transform:scaleX(0.8543);transform-origin:0 0;">Sweden</div>
<div class="a" style="left:584.55px;top:247.06px;font-size:16px;font-weight:normal;color:#8a8a8a;letter-spacing:0.790px;">Sort by low-carbon (%)</div>
<div class="a" style="left:475.70px;top:286.86px;font-size:16px;font-weight:normal;color:#767676;letter-spacing:1.000px;transform:scaleX(0.9372);transform-origin:0 0;">53% of the electricity in Spain is generated from low-carbon power.</div>
<div class="a" style="left:475.25px;top:311.66px;font-size:16px;font-weight:normal;color:#767676;letter-spacing:1.000px;transform:scaleX(0.9390);transform-origin:0 0;">The primary low-carbon power source is nuclear.</div>
<div class="a" style="left:1318.55px;top:247.06px;font-size:16px;font-weight:normal;color:#8a8a8a;letter-spacing:0.790px;">Sort by low-carbon (%)</div>
<div class="a" style="left:1209.70px;top:286.86px;font-size:16px;font-weight:normal;color:#767676;letter-spacing:1.000px;transform:scaleX(0.9372);transform-origin:0 0;">53% of the electricity in Spain is generated from low-carbon power.</div>
<div class="a" style="left:1209.25px;top:311.66px;font-size:16px;font-weight:normal;color:#767676;letter-spacing:1.000px;transform:scaleX(0.9390);transform-origin:0 0;">The primary low-carbon power source is nuclear.</div>
<div class="a" style="left:584.55px;top:757.06px;font-size:16px;font-weight:normal;color:#8a8a8a;letter-spacing:0.790px;">Sort by low-carbon (%)</div>
<div class="a" style="left:475.70px;top:796.86px;font-size:16px;font-weight:normal;color:#767676;letter-spacing:1.000px;transform:scaleX(0.9372);transform-origin:0 0;">53% of the electricity in Spain is generated from low-carbon power.</div>
<div class="a" style="left:475.25px;top:821.66px;font-size:16px;font-weight:normal;color:#767676;letter-spacing:1.000px;transform:scaleX(0.9390);transform-origin:0 0;">The primary low-carbon power source is nuclear.</div>
<div class="a" style="left:1318.55px;top:757.06px;font-size:16px;font-weight:normal;color:#8a8a8a;letter-spacing:0.790px;">Sort by low-carbon (%)</div>
<div class="a" style="left:1209.70px;top:796.86px;font-size:16px;font-weight:normal;color:#767676;letter-spacing:1.000px;transform:scaleX(0.9372);transform-origin:0 0;">53% of the electricity in Spain is generated from low-carbon power.</div>
<div class="a" style="left:1209.25px;top:821.66px;font-size:16px;font-weight:normal;color:#767676;letter-spacing:1.000px;transform:scaleX(0.9390);transform-origin:0 0;">The primary low-carbon power source is nuclear.</div>
<div class="a" style="left:897.40px;top:1270.96px;font-size:16px;font-weight:normal;color:#fff;letter-spacing:0.500px;">Prev</div>
<div class="a" style="left:1390.55px;top:1270.96px;font-size:16px;font-weight:normal;color:#fff;letter-spacing:0.500px;transform:scaleX(0.9891);transform-origin:0 0;">Next</div>
<div class="a" style="left:1871.55px;top:1310.86px;font-size:16px;font-weight:normal;color:#8a8a8a;letter-spacing:0.400px;transform:scaleX(0.8633);transform-origin:0 0;">C44</div>
<svg class="a" style="left:104px;top:288px" width="36" height="36" viewBox="0 0 36 36" fill="none" stroke="#8069f4" stroke-width="0.95">
<circle cx="24.6" cy="11.6" r="4.3"/><path d="M22.2,13.2 L24.6,9.4 L27,13.2"/><path d="M20.6,12.2 L28.6,12.2"/>
<circle cx="11.6" cy="24.6" r="4.3"/><path d="M9.2,26.2 L11.6,22.4 L14,26.2"/><path d="M7.6,23.2 L15.6,23.2"/>
<path d="M21,10.6 C16,9.6 11,14 11.2,18.8"/><path d="M24.8,16 C26,21 22,26 16,25.6"/>
<path d="M15.6,19.2 L17.8,15.6 L20.2,18.8 Z"/><path d="M13,15.5 L17,17.5"/><path d="M22.6,18 C21.6,21 22,23 21.8,24.4"/>
</svg>
<svg class="a" style="left:104px;top:385px" width="36" height="36" viewBox="0 0 36 36" fill="none" stroke="#fff" stroke-width="1.2">
<path d="M15.8,5.9 A11.65,11.65 0 0 0 16.6,29.0"/><path d="M20.2,6.0 A11.65,11.65 0 0 1 20.2,28.9"/>
<path d="M19.6,4.2 L17.6,6 L19.6,7.8 Z" fill="#fff"/><path d="M16.2,27.2 L18.4,28.9 L16.2,30.6 Z" fill="#fff"/>
<path d="M18,12.4 C16,15 13.4,17.8 13.4,19.4 A4.6,4.6 0 0 0 22.6,19.4 C22.6,17.8 20,15 18,12.4 Z"/>
</svg>
<svg class="a" style="left:104px;top:481px" width="36" height="36" viewBox="0 0 36 36" fill="none" stroke="#fff" stroke-width="1.15" stroke-linejoin="round">
<path d="M20.4,6.3 L30.5,12 L20.4,17.3 L10.6,12 Z"/><path d="M10.6,12 V18.6"/><path d="M20.4,17.3 V28.4"/><path d="M30.5,12 V22.9 L20.4,28.4 L18.4,27.6"/>
<path d="M15.2,8.9 L25.4,14.7 V18.6 L24.2,17.8 V14.9"/><path d="M16.8,8 L26.6,13.6"/>
<circle cx="11.7" cy="25" r="6.4"/><path d="M9.6,23.6 H12.4 A1.9,1.9 0 0 1 12.4,27.4 H11"/><path d="M10.8,22.4 L9.4,23.6 L10.8,24.8"/>
</svg>
<svg class="a" style="left:104px;top:578px" width="36" height="36" viewBox="0 0 36 36" fill="none" stroke="#fff" stroke-width="1.15">
<ellipse cx="15.2" cy="12" rx="10.8" ry="3.4"/>
<path d="M4.4,12 V27 A10.8,3.4 0 0 0 26,27"/><path d="M4.4,17 A10.8,3.4 0 0 0 26,17"/><path d="M4.4,22 A10.8,3.4 0 0 0 26,22"/>
<path d="M26,12 V27"/>
<path d="M12.4,8.4 C14,6.6 18,6.2 22,6.2 C27,6.2 30.6,7.6 30.6,9.6 V25.4 C30.6,26.2 28.6,27.2 26,27.6"/>
<path d="M26,13.8 C28.6,13.4 30.6,12.6 30.6,11"/><path d="M26,18.8 C28.6,18.4 30.6,17.6 30.6,16.2"/><path d="M26,23.8 C28.6,23.4 30.6,22.6 30.6,21.2"/>
</svg>
<svg class="a" style="left:104px;top:876px" width="34" height="34" viewBox="0 0 34 34" fill="none" stroke="#fff" stroke-width="1.7" stroke-linejoin="round">
<path d="M26.06,13.90 L29.12,14.67 L29.12,18.93 L26.06,19.70 L25.37,21.37 L26.99,24.07 L23.97,27.09 L21.27,25.47 L19.60,26.16 L18.83,29.22 L14.57,29.22 L13.80,26.16 L12.13,25.47 L9.43,27.09 L6.41,24.07 L8.03,21.37 L7.34,19.70 L4.28,18.93 L4.28,14.67 L7.34,13.90 L8.03,12.23 L6.41,9.53 L9.43,6.51 L12.13,8.13 L13.80,7.44 L14.57,4.38 L18.83,4.38 L19.60,7.44 L21.27,8.13 L23.97,6.51 L26.99,9.53 L25.37,12.23 Z"/><circle cx="16.7" cy="16.8" r="4.5"/></svg>
<svg class="a" style="left:104px;top:950px" width="34" height="30" viewBox="0 0 34 30" fill="none" stroke="#fff" stroke-width="1.7" stroke-linecap="round" stroke-linejoin="round">
<path d="M19.4,9.4 V6.2 Q19.4,4 17.2,4 H6.6 Q4.4,4 4.4,6.2 V22.8 Q4.4,25 6.6,25 H17.2 Q19.4,25 19.4,22.8 V19.8"/>
<path d="M13.8,14.5 H26.6"/><path d="M23.2,11.1 L26.6,14.5 L23.2,17.9"/>
</svg>
<svg class="a" style="left:1740px;top:80px" width="36" height="34" viewBox="0 0 36 34" fill="none" stroke="#9a9a9a" stroke-width="1.5" stroke-linecap="round" stroke-linejoin="round">
<path d="M17.6,5.1 C12.6,5.3 10.2,9.4 10.2,14.4 C10.2,19.4 9.6,21.2 7.4,23.6 Q6,25.2 8.2,25.2 H27.4 Q29.4,25.2 28,23.6 C25.6,21 24.4,19.4 24.4,15"/>
<path d="M14.4,25.2 A2.9,2.9 0 0 0 20.2,25.2"/>
</svg>
<div class="a" style="left:1760px;top:81.1px;width:11px;height:11px;border-radius:50%;background:#5a3ff6"></div>
<div class="a" style="left:1779px;top:71.8px;width:47.4px;height:44.4px;border-radius:12px;background:#fff"></div>
<svg class="a" style="left:1780.2px;top:73px" width="45" height="42" viewBox="0 0 45 42">
<defs><clipPath id="av"><rect x="0" y="0" width="45" height="42" rx="11" ry="11"/></clipPath>
<linearGradient id="avbg" x1="0" y1="0" x2="1" y2="1"><stop offset="0" stop-color="#a48a70"/><stop offset="0.6" stop-color="#b59c7e"/><stop offset="1" stop-color="#e2c99a"/></linearGradient>
<radialGradient id="face" cx="0.55" cy="0.42" r="0.62"><stop offset="0" stop-color="#dcbcac"/><stop offset="0.6" stop-color="#b38d7a"/><stop offset="1" stop-color="#5a4238"/></radialGradient></defs>
<g clip-path="url(#av)">
<rect width="45" height="42" fill="url(#avbg)"/>
<rect x="12" y="0" width="4" height="24" fill="#1f1a17"/>
<rect x="0" y="17" width="14" height="3.6" fill="#1f1a17"/><rect x="33" y="16.5" width="11" height="3.4" fill="#1f1a17"/>
<rect x="42.2" y="0" width="2.4" height="42" fill="#2a221d"/>
<rect x="38" y="7" width="3" height="2.4" fill="#d05f95"/><rect x="38.5" y="24.5" width="3.4" height="2.6" fill="#d63a7a"/><rect x="34.5" y="11.5" width="2.4" height="2.4" fill="#9a90d6"/><rect x="3" y="28.5" width="3" height="2" fill="#8cb4d8"/><rect x="7" y="28" width="3.6" height="2" fill="#7aaed8"/>
<path d="M13.2,24 C11.6,10 16.6,3.4 23.6,3.4 C30.4,3.4 35,8.6 33.6,21 L32,14.6 C30,11.8 27,11 23.2,11 C19.4,11 16.8,12.4 15.6,15.6 L15.4,26 Z" fill="#221915"/>
<path d="M15.6,13.6 C15.4,24 16,32 23.4,35 C30,32.6 32.2,25 32,13.4 C29,11.4 19,11.4 15.6,13.6 Z" fill="url(#face)"/>
<path d="M18,27.4 Q23,25.4 28.6,27.6 Q27.4,28.8 23.2,28.2 Q19.4,28.8 18,27.4 Z" fill="#3e2c24" opacity="0.8"/>
<path d="M18.6,20.4 Q20.4,19.6 22,20.4" stroke="#3a2a22" stroke-width="0.9" fill="none"/><path d="M25,20.4 Q26.8,19.6 28.6,20.4" stroke="#3a2a22" stroke-width="0.9" fill="none"/>
<path d="M0,35.6 C5,32.4 12,31.4 19,32 L23.4,41 L28,32 C35,31.4 41,33 45,37 V42 H0 Z" fill="#1e3260"/>
<path d="M19,32 L23.4,41 L28,32 C26,34 21,34 19,32 Z" fill="#b89484"/>
</g></svg>
<div class="a" style="left:1848px;top:82.7px;width:5px;height:5px;border-radius:50%;background:#9c9c9c"></div>
<div class="a" style="left:1848px;top:90.5px;width:5px;height:5px;border-radius:50%;background:#9c9c9c"></div>
<div class="a" style="left:1848px;top:98.3px;width:5px;height:5px;border-radius:50%;background:#9c9c9c"></div>
<svg class="a" style="left:866px;top:1268px" width="22" height="20" viewBox="0 0 22 20" fill="none" stroke="#fff" stroke-width="1.35" stroke-linecap="round" stroke-linejoin="round">
<path d="M3.4,10 H19"/><path d="M8.4,5 L3.4,10 L8.4,15"/></svg>
<svg class="a" style="left:1437px;top:1268px" width="22" height="20" viewBox="0 0 22 20" fill="none" stroke="#fff" stroke-width="1.35" stroke-linecap="round" stroke-linejoin="round">
<path d="M2.8,10 H17.6"/><path d="M12.6,5 L17.6,10 L12.6,15"/></svg>
<svg class="a" style="left:460px;top:158px" width="34" height="34" viewBox="0 0 34 34" fill="none" stroke-width="1.6">
<defs><linearGradient id="wbg" gradientUnits="userSpaceOnUse" x1="4" y1="30" x2="30" y2="4"><stop offset="0" stop-color="#000a2e"/><stop offset="0.32" stop-color="#05306a"/><stop offset="0.52" stop-color="#0a78c0"/><stop offset="0.72" stop-color="#18b4f0"/><stop offset="1" stop-color="#8fe6ff"/></linearGradient></defs>
<g stroke="url(#wbg)">
<path d="M26.4,7.2 A14.2,14.2 0 1 0 31,15"/>
<path d="M31,15 C31.2,12 30,9.6 28.4,8"/>
<path d="M5.6,11 C9,15.6 18,18.4 27.4,14"/>
<path d="M8.8,6.6 C13,4.6 18,4.2 22.6,5"/>
<path d="M4.4,21.6 C10,26.4 21,26.8 30,20.6"/>
<path d="M17.4,5.2 C12.6,11 9.4,21 10,31.4"/>
<path d="M18.4,5.2 C18.8,13 18.6,24 17,32"/>
<path d="M19.6,5.4 C25,9.4 28.4,16 28.6,24"/>
<path d="M3.2,17 C4,10 8,5.6 14,4"/>
</g></svg>
<div class="a" style="left:494.6px;top:167.4px;font-size:12.6px;font-weight:bold;color:#0b1f4d;letter-spacing:0.22px">THE WORLD BANK</div>
<div class="a" style="left:497.6px;top:181.4px;font-size:6.6px;font-weight:bold;color:#1ea3e3;letter-spacing:-0.1px">IBRD • IDA</div>
<svg class="a" style="left:690px;top:162px" width="34" height="34" viewBox="0 0 34 34">
<defs><radialGradient id="bpg" cx="0.5" cy="0.5" r="0.5"><stop offset="0" stop-color="#ffffff"/><stop offset="0.28" stop-color="#ffffff"/><stop offset="0.42" stop-color="#fff000"/><stop offset="0.68" stop-color="#e0e800"/><stop offset="1" stop-color="#58bb00"/></radialGradient></defs>
<path d="M16.90,1.30 L18.84,5.27 L22.03,2.20 L22.50,6.60 L26.54,4.81 L25.48,9.10 L29.89,8.80 L27.42,12.47 L31.67,13.70 L28.10,16.30 L31.67,18.90 L27.42,20.13 L29.89,23.80 L25.48,23.50 L26.54,27.79 L22.50,26.00 L22.03,30.40 L18.84,27.33 L16.90,31.30 L14.96,27.33 L11.77,30.40 L11.30,26.00 L7.26,27.79 L8.32,23.50 L3.91,23.80 L6.38,20.13 L2.13,18.90 L5.70,16.30 L2.13,13.70 L6.38,12.47 L3.91,8.80 L8.32,9.10 L7.26,4.81 L11.30,6.60 L11.77,2.20 L14.96,5.27 Z" fill="#009a10"/>
<path d="M18.91,4.88 L19.84,8.22 L22.70,6.25 L22.43,9.71 L25.79,8.84 L24.35,12.00 L27.80,12.33 L25.37,14.81 L28.50,16.30 L25.37,17.79 L27.80,20.27 L24.35,20.60 L25.79,23.76 L22.43,22.89 L22.70,26.35 L19.84,24.38 L18.91,27.72 L16.90,24.90 L14.89,27.72 L13.96,24.38 L11.10,26.35 L11.37,22.89 L8.01,23.76 L9.45,20.60 L6.00,20.27 L8.43,17.79 L5.30,16.30 L8.43,14.81 L6.00,12.33 L9.45,12.00 L8.01,8.84 L11.37,9.71 L11.10,6.25 L13.96,8.22 L14.89,4.88 L16.90,7.70 Z" fill="#62c000"/>
<circle cx="16.9" cy="16.3" r="9.2" fill="url(#bpg)"/>
<path d="M16.9,11.700000000000001 L20.5,16.3 L16.9,20.9 L13.299999999999999,16.3 Z" fill="#fff"/><circle cx="16.9" cy="16.3" r="3.2" fill="#fff"/>
</svg>
<div class="a" style="left:710.6px;top:153.4px;font-size:12px;color:#1a961a;letter-spacing:-0.6px">bp</div>
</body></html>
